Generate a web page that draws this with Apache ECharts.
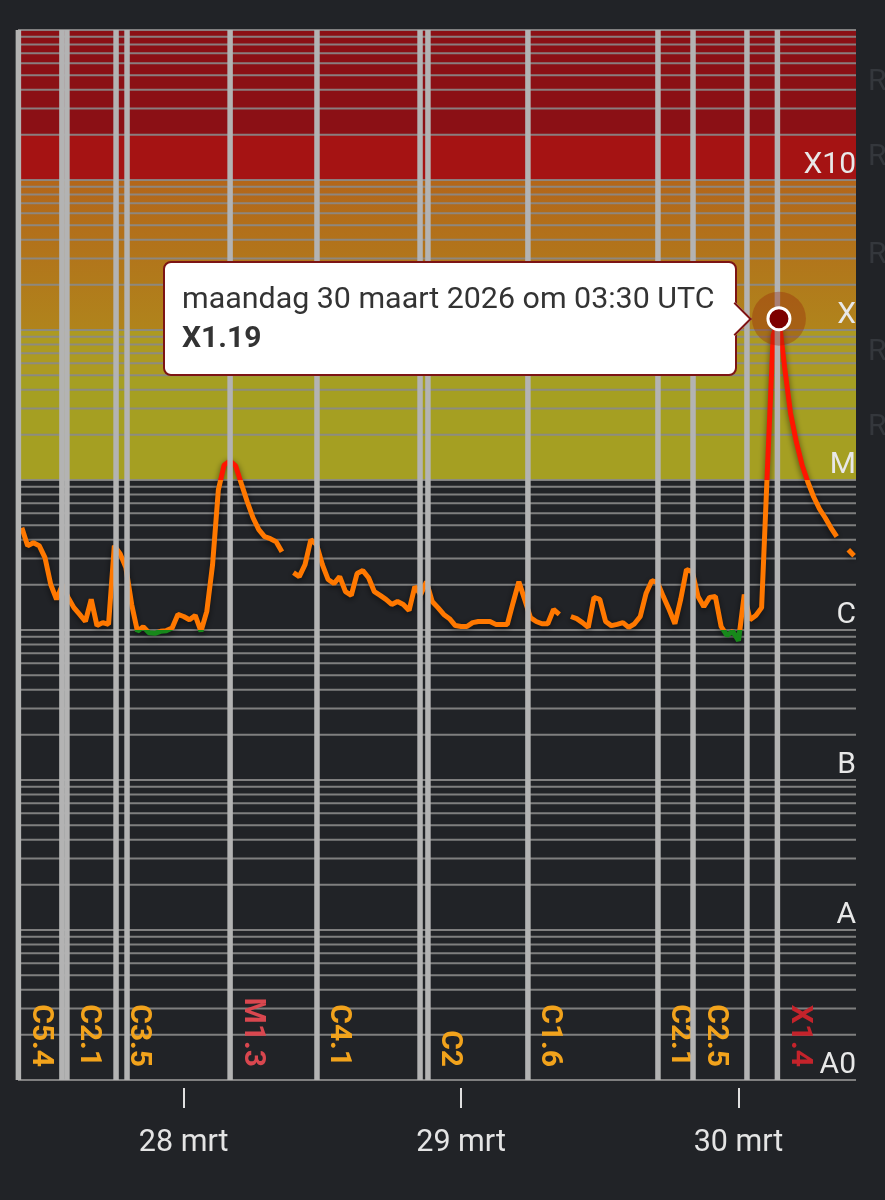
<!DOCTYPE html>
<html>
<head>
<meta charset="utf-8">
<script src="https://cdn.jsdelivr.net/npm/echarts@6/dist/echarts.min.js"></script>
<style>
html,body{margin:0;padding:0;background:#212327;}
#chart{width:885px;height:1200px;}
</style>
</head>
<body>
<div id="chart"></div>
<script>
// ---------- DATA ----------
// GOES X-ray flux (W/m^2), one reading every 30 minutes starting 27 mrt 2026 10:00 UTC
const seriesStartUTC = '2026-03-27T10:00:00Z';
const seriesStepMinutes = 30;
const flux = [
  4.8e-6, 3.65e-6, 3.82e-6, 3.65e-6, 3.04e-6, 2.01e-6, 1.60e-6, 2.0e-6, 1.65e-6, 1.41e-6,
  1.27e-6, 1.14e-6, 1.6e-6, 1.07e-6, 1.12e-6, 1.09e-6, 3.65e-6, 3.23e-6, 2.61e-6, 1.48e-6,
  9.8e-7, 1.05e-6, 9.6e-7, 9.5e-7, 9.8e-7, 9.9e-7, 1.03e-6, 1.27e-6, 1.23e-6, 1.17e-6,
  1.25e-6, 9.8e-7, 1.33e-6, 2.73e-6, 8.6e-6, 1.26e-5, 1.34e-5, 1.24e-5, 9.4e-6, 7.16e-6,
  5.6e-6, 4.67e-6, 4.19e-6, 4.06e-6, 3.88e-6, 3.33e-6, null, 2.41e-6, 2.27e-6, 2.73e-6,
  4.0e-6, 3.71e-6, 2.73e-6, 2.17e-6, 2.04e-6, 2.27e-6, 1.80e-6, 1.70e-6, 2.38e-6, 2.49e-6,
  2.23e-6, 1.80e-6, 1.70e-6, 1.60e-6, 1.48e-6, 1.55e-6, 1.48e-6, 1.35e-6, 1.95e-6, 1.72e-6,
  2.10e-6, 1.55e-6, 1.41e-6, 1.27e-6, 1.19e-6, 1.07e-6, 1.055e-6, 1.055e-6, 1.12e-6, 1.14e-6,
  1.14e-6, 1.14e-6, 1.09e-6, 1.09e-6, 1.09e-6, 1.52e-6, 2.10e-6, 1.60e-6, 1.21e-6, 1.14e-6,
  1.10e-6, 1.10e-6, 1.37e-6, 1.27e-6, null, 1.23e-6, 1.19e-6, 1.12e-6, 1.04e-6, 1.65e-6,
  1.60e-6, 1.14e-6, 1.07e-6, 1.09e-6, 1.12e-6, 1.04e-6, 1.10e-6, 1.23e-6, 1.75e-6, 2.13e-6,
  2.07e-6, 1.67e-6, 1.37e-6, 1.10e-6, 1.60e-6, 2.53e-6, 2.45e-6, 1.67e-6, 1.43e-6, 1.65e-6,
  1.67e-6, 1.055e-6, 9.2e-7, 9.8e-7, 8.5e-7, 1.72e-6, 1.17e-6, 1.25e-6, 1.41e-6, 1.17e-5,
  9.25e-5, 1.19e-4, 5.58e-5, 2.80e-5, 1.80e-5, 1.26e-5, 9.7e-6, 7.73e-6, 6.43e-6, 5.6e-6,
  4.8e-6, 4.19e-6, null, 3.43e-6, 3.13e-6
];

// flare event markers
const flareTimes = [
  '2026-03-27T09:42:00Z', '2026-03-27T13:28:00Z', '2026-03-27T13:54:00Z', '2026-03-27T18:09:00Z',
  '2026-03-27T19:06:00Z', '2026-03-28T04:01:00Z', '2026-03-28T11:32:00Z', '2026-03-28T20:27:00Z',
  '2026-03-28T21:08:00Z', '2026-03-29T05:47:00Z', '2026-03-29T17:02:00Z', '2026-03-29T20:04:00Z',
  '2026-03-30T00:44:00Z', '2026-03-30T03:22:00Z'
];
const flareLabels = ['C5.4', '', 'C2.1', 'C3.5', '', 'M1.3', 'C4.1', '', 'C2', 'C1.6', 'C2.1', 'C2.5', '', 'X1.4'];

// x axis
const axisStartUTC = '2026-03-27T09:40:00Z';
const axisEndUTC = '2026-03-30T10:10:00Z';
const tickTimesUTC = ['2026-03-28T00:00:00Z', '2026-03-29T00:00:00Z', '2026-03-30T00:00:00Z'];
const tickLabels = ['28 mrt', '29 mrt', '30 mrt'];

// y axis (log) flare classes
const yMin = 1e-9, yMax = 1e-2;
const classValues = [1e-9, 1e-8, 1e-7, 1e-6, 1e-5, 1e-4, 1e-3];
const classNames = ['A0', 'A', 'B', 'C', 'M', 'X', 'X10'];

// radio blackout bands
const bandLimits = [1e-5, 5e-5, 1e-4, 1e-3, 2e-3, 1e-2];
const bandNames = ['R1', 'R2', 'R3', 'R4', 'R5'];

// ---------- STYLE ----------
const bandColors = [
  '#a59f22',
  '#ac9a22',
  {type: 'linear', x: 0, y: 0, x2: 0, y2: 1, colorStops: [{offset: 0, color: '#b3661a'}, {offset: 1, color: '#b0841c'}]},
  '#a51313',
  '#8b1015'
];
const FONT = 'Roboto';
function flareColor(lbl) {
  if (lbl.charAt(0) === 'X') return '#c4232b';
  if (lbl.charAt(0) === 'M') return '#d9474f';
  return '#f2a31c';
}

// ---------- BUILD ----------
const t0 = Date.parse(seriesStartUTC);
const xMin = Date.parse(axisStartUTC);
const xMax = Date.parse(axisEndUTC);
const lineData = flux.map((v, i) => [t0 + i * seriesStepMinutes * 60000, v]);
let peakIdx = 0;
flux.forEach((v, i) => { if (v != null && v > flux[peakIdx]) peakIdx = i; });
const peakPoint = lineData[peakIdx];

const gridValues = [];
for (let e = -9; e <= -3; e++) {
  for (let k = 1; k <= 9; k++) gridValues.push(parseFloat(k + 'e' + e));
}
gridValues.push(yMax);

const tickTimes = tickTimesUTC.map(s => Date.parse(s));

const dayNames = ['zondag', 'maandag', 'dinsdag', 'woensdag', 'donderdag', 'vrijdag', 'zaterdag'];
const monthNames = ['januari', 'februari', 'maart', 'april', 'mei', 'juni', 'juli', 'augustus', 'september', 'oktober', 'november', 'december'];
function pad(n) { return (n < 10 ? '0' : '') + n; }
function fluxClass(v) {
  if (v >= 1e-4) return 'X' + (v / 1e-4).toFixed(2);
  if (v >= 1e-5) return 'M' + (v / 1e-5).toFixed(2);
  if (v >= 1e-6) return 'C' + (v / 1e-6).toFixed(2);
  if (v >= 1e-7) return 'B' + (v / 1e-7).toFixed(2);
  return 'A' + (v / 1e-8).toFixed(2);
}

const chart = echarts.init(document.getElementById('chart'), null, {renderer: 'canvas'});

const option = {
  backgroundColor: '#212327',
  animation: false,
  textStyle: {fontFamily: FONT},
  grid: {left: 18, right: 29, top: 30, bottom: 120, containLabel: false},
  xAxis: {
    type: 'value',
    min: xMin,
    max: xMax,
    offset: 8,
    axisLine: {show: false},
    splitLine: {show: false},
    axisTick: {show: true, customValues: tickTimes, length: 20, lineStyle: {color: '#e0e0e0', width: 2}},
    axisLabel: {
      customValues: tickTimes,
      formatter: function (v) { const i = tickTimes.indexOf(v); return i >= 0 ? tickLabels[i] : ''; },
      color: '#e4e4e4', fontSize: 30.5, fontFamily: FONT, margin: 40
    }
  },
  yAxis: {
    type: 'log', logBase: 10, min: yMin, max: yMax, position: 'right',
    axisLine: {show: false}, axisTick: {show: false}, axisLabel: {show: false}, splitLine: {show: false}
  },
  visualMap: {
    show: false, type: 'piecewise', seriesIndex: 2, dimension: 1,
    pieces: [
      {lt: 1e-6, color: '#17881a'},
      {gte: 1e-6, lt: 1e-5, color: '#ff7800'},
      {gte: 1e-5, color: '#ff1500'}
    ]
  },
  tooltip: {
    show: true, trigger: 'item', triggerOn: 'none', alwaysShowContent: true,
    transitionDuration: 0, padding: 0, borderWidth: 0, backgroundColor: 'transparent',
    extraCssText: 'box-shadow:none;', confine: false,
    position: function (point, params, dom, rect, size) {
      return [point[0] - size.contentSize[0] - 42, point[1] - size.contentSize[1] / 2];
    },
    formatter: function (p) {
      const d = new Date(p.value[0]);
      const line1 = dayNames[d.getUTCDay()] + ' ' + d.getUTCDate() + ' ' + monthNames[d.getUTCMonth()] + ' ' +
        d.getUTCFullYear() + ' om ' + pad(d.getUTCHours()) + ':' + pad(d.getUTCMinutes()) + ' UTC';
      const line2 = fluxClass(p.value[1]);
      return '<div style="position:relative;background:#fff;border:2px solid #7d1414;border-radius:8px;' +
        'padding:15px 20px 18px 17px;font-family:Roboto;color:#333;">' +
        '<div style="font-size:30.4px;line-height:40px;white-space:nowrap;">' + line1 + '</div>' +
        '<div style="font-size:30px;line-height:38px;font-weight:bold;">' + line2 + '</div>' +
        '<div style="position:absolute;box-sizing:border-box;right:-12px;top:50%;margin-top:-12px;width:24px;height:24px;' +
        'background:#fff;border-top:2px solid #7d1414;border-right:2px solid #7d1414;transform:rotate(45deg);"></div>' +
        '</div>';
    }
  },
  series: [
    {
      name: 'bands', type: 'line', data: [], silent: true, tooltip: {show: false},
      markArea: {
        silent: true, z: 1,
        data: bandNames.map((n, i) => [
          {yAxis: bandLimits[i], name: n, itemStyle: {color: bandColors[i]},
           label: {show: true, position: 'right', distance: 12, formatter: n, color: '#34373c', fontSize: 30, fontFamily: FONT}},
          {yAxis: bandLimits[i + 1]}
        ])
      }
    },
    {
      name: 'grid', type: 'custom', z: 2, silent: true, tooltip: {show: false}, clip: false,
      data: gridValues.map(v => [xMin, v]),
      encode: {x: 0, y: 1},
      renderItem: function (params, api) {
        const v = api.value(1);
        const p0 = api.coord([xMin, v]);
        const p1 = api.coord([xMax, v]);
        const children = [{
          type: 'line',
          shape: {x1: p0[0], y1: p0[1], x2: p1[0], y2: p1[1]},
          style: {stroke: 'rgba(138,138,138,0.9)', lineWidth: 2}
        }];
        const ci = classValues.indexOf(v);
        if (ci >= 0) {
          children.push({
            type: 'text', x: p1[0], y: p1[1], z2: 10,
            style: {text: classNames[ci], fill: '#e8e8e8', font: '30px Roboto', align: 'right', verticalAlign: 'bottom'}
          });
        }
        return {type: 'group', children: children};
      }
    },
    {
      name: 'flux', type: 'line', z: 3, data: lineData, showSymbol: false, connectNulls: false,
      silent: true, tooltip: {show: false}, emphasis: {disabled: true},
      lineStyle: {width: 5, shadowBlur: 6, shadowColor: 'rgba(0,0,0,0.55)', shadowOffsetY: 2}
    },
    {
      name: 'flares', type: 'custom', z: 4, silent: true, tooltip: {show: false}, clip: false,
      data: flareTimes.map((t, i) => [Date.parse(t), 1e-6, i]),
      encode: {x: 0, y: 1},
      renderItem: function (params, api) {
        const t = api.value(0);
        const idx = api.value(2);
        const top = api.coord([t, yMax]);
        const bot = api.coord([t, yMin]);
        const lbl = flareLabels[idx];
        const children = [{
          type: 'rect',
          shape: {x: top[0] - 2.75, y: top[1], width: 5.5, height: bot[1] - top[1]},
          style: {fill: '#b3b3b3'}
        }];
        if (lbl) {
          children.push({
            type: 'text', x: top[0] + 22, y: bot[1] - 13, rotation: -Math.PI / 2,
            style: {text: lbl, fill: flareColor(lbl), font: 'bold 30px Roboto', align: 'right', verticalAlign: 'middle'}
          });
        }
        return {type: 'group', children: children};
      }
    },
    {
      name: 'halo', type: 'scatter', z: 5, silent: true, tooltip: {show: false},
      symbolSize: 54, itemStyle: {color: 'rgba(150,35,10,0.45)'},
      data: [peakPoint]
    },
    {
      name: 'peak', type: 'scatter', z: 6,
      symbolSize: 22, itemStyle: {color: '#7d0000', borderColor: '#ffffff', borderWidth: 3, opacity: 1},
      emphasis: {disabled: true},
      data: [peakPoint]
    }
  ]
};

chart.setOption(option);
chart.dispatchAction({type: 'showTip', seriesIndex: 5, dataIndex: 0});
</script>
</body>
</html>
